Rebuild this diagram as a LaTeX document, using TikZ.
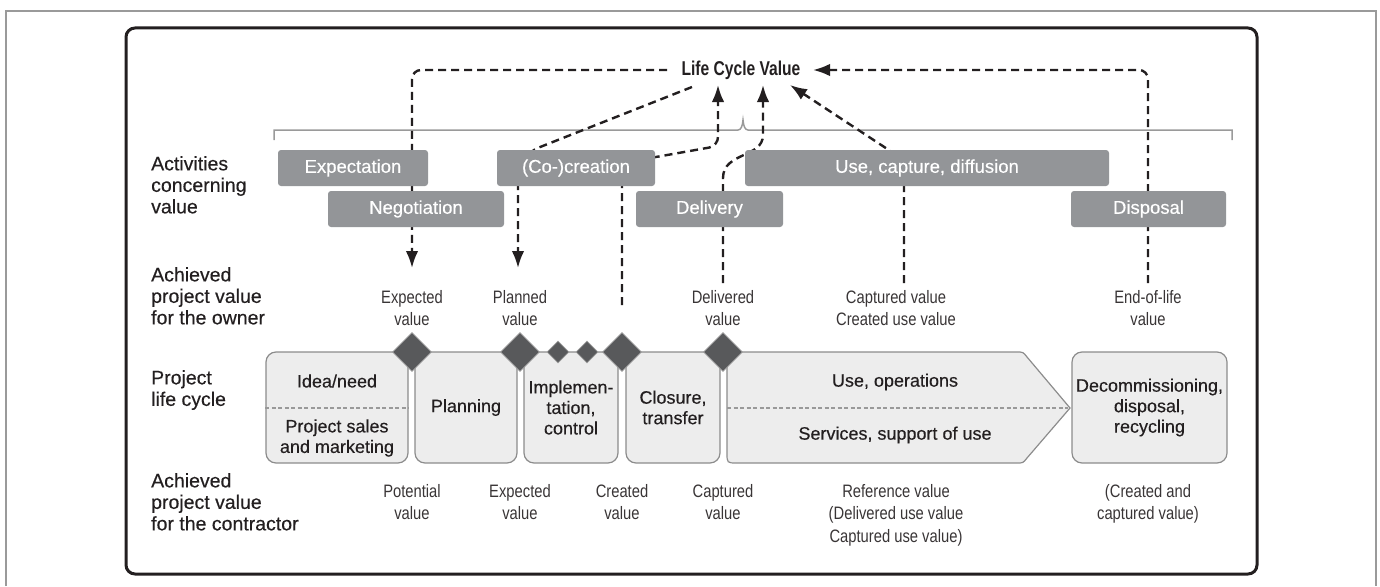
\documentclass[tikz,border=0pt]{standalone}
\usepackage{fontspec}
\setmainfont{Liberation Sans}
\newfontfamily\medfont[FakeBold=0.35]{Liberation Sans}
\newfontfamily\condfont[FakeStretch=0.82]{Liberation Sans}
\newfontfamily\lcvfont[FakeStretch=0.78]{Liberation Sans}
\usetikzlibrary{arrows.meta,shapes.geometric}
\definecolor{actgray}{HTML}{939598}
\definecolor{boxfill}{HTML}{EDEDED}
\definecolor{boxline}{HTML}{8C8C8C}
\definecolor{diafill}{HTML}{58595B}
\definecolor{ink}{HTML}{231F20}
\definecolor{framegray}{HTML}{9A9A9A}
\begin{document}
\begin{tikzpicture}[x=1pt,y=-1pt,
  actbox/.style={fill=actgray, rounded corners=3pt, text=white, inner sep=0pt,
    font=\medfont\fontsize{18.5}{21}\selectfont, minimum height=36pt},
  lowbox/.style={fill=boxfill, draw=boxline, line width=1.2pt, rounded corners=10pt,
    inner sep=0pt, minimum height=111pt, text=ink, align=center,
    font=\medfont\fontsize{18}{20.5}\selectfont},
  boxtext/.style={text=ink, align=center, inner sep=0pt, font=\medfont\fontsize{18}{20.5}\selectfont},
  sidelabel/.style={text=ink, align=left, anchor=north west, inner sep=0pt,
    font=\medfont\fontsize{19.5}{21.5}\selectfont},
  vlabel/.style={text=ink!90, align=center, anchor=north, inner sep=0pt,
    font=\condfont\fontsize{18}{22.5}\selectfont},
  bigdia/.style={diamond, fill=diafill, draw=gray!75, line width=0.8pt,
    minimum width=39pt, minimum height=39pt, inner sep=0pt},
  smalldia/.style={diamond, fill=diafill, draw=gray!75, line width=0.8pt,
    minimum width=22pt, minimum height=22pt, inner sep=0pt},
  dashline/.style={draw=ink, line width=2.4pt, dash pattern=on 8pt off 5pt, rounded corners=9pt},
  dasharrow/.style={dashline, -{Latex[length=17pt,width=12.5pt]}},
  divider/.style={draw=gray!80, line width=1.1pt, dash pattern=on 4pt off 2.5pt}
]
\useasboundingbox (0,0) rectangle (1380,586);
% outer gray frame
\draw[framegray, line width=2pt] (6,586) -- (6,11) -- (1376,11) -- (1376,586);
% inner black frame
\draw[ink, line width=3pt, rounded corners=9pt] (126,28) rectangle (1257,574);

% brace-like bracket
\draw[framegray, line width=1.5pt] (274,140) -- (274,130) -- (738,130)
  .. controls (741,130) and (742.5,126) .. (743,120)
  .. controls (743.5,126) and (745,130) .. (748,130) -- (1232,130) -- (1232,140);

% title
\node[font=\lcvfont\bfseries\fontsize{20}{23}\selectfont, text=ink, inner sep=0pt] (lcv) at (741,70) {Life Cycle Value};

% value labels (owner)
\node[vlabel] (ov1) at (412,290) {Expected\\value};
\node[vlabel] (ov2) at (520,290) {Planned\\value};
\node[vlabel] (ov3) at (723,290) {Delivered\\value};
\node[vlabel] (ov4) at (896,290) {Captured value\\Created use value};
\node[vlabel] (ov5) at (1148,290) {End-of-life\\value};

% value labels (contractor)
\node[vlabel] (cv1) at (412,484) {Potential\\value};
\node[vlabel] (cv2) at (520,484) {Expected\\value};
\node[vlabel] (cv3) at (622,484) {Created\\value};
\node[vlabel] (cv4) at (723,484) {Captured\\value};
\node[vlabel] (cv5) at (896,484) {Reference value\\(Delivered use value\\Captured use value)};
\node[vlabel] (cv6) at (1148,484) {(Created and\\captured value)};

% coordinates for connectors
\coordinate (a1s) at (667,70);
\coordinate (a1t) at (412,268);
\coordinate (a2s) at (692,87);
\coordinate (a2t) at (518,268);
\coordinate (a3s) at (622,305);
\coordinate (a3t) at (718,85);
\coordinate (a4s) at (723,283);
\coordinate (a4t) at (763,85);
\coordinate (a5s) at (904,283);
\coordinate (a5t) at (790,85);
\coordinate (a6s) at (1148,283);
\coordinate (a6t) at (813,70);

% dashed connectors (drawn behind activity boxes)
\draw[dasharrow] (a1s) -- (412,70) -- (a1t);
\draw[dasharrow] (a2s) -- (530,151) -- (518,168) -- (a2t);
\draw[dasharrow] (a3s) -- (622,163) -- (718,146) -- (a3t);
\draw[dasharrow, rounded corners=0pt] (a4s) -- (723,178) .. controls (723,152) and (763,158) .. (763,135) -- (a4t);
\draw[dasharrow] (a5s) -- (904,160) -- (a5t);
\draw[dasharrow] (a6s) -- (1148,70) -- (a6t);

% activity boxes
\node[actbox, minimum width=150pt] (expect) at (353,168) {Expectation};
\node[actbox, minimum width=176pt] (negot) at (416,209) {Negotiation};
\node[actbox, minimum width=158pt] (cocre) at (576,168) {(Co-)creation};
\node[actbox, minimum width=147pt] (deliv) at (709.5,209) {Delivery};
\node[actbox, minimum width=364pt] (usecap) at (927,168) {Use, capture, diffusion};
\node[actbox, minimum width=155pt] (dispo) at (1148.5,209) {Disposal};

% side labels
\node[sidelabel] (sl1) at (151,156) {Activities\\concerning\\value};
\node[sidelabel] (sl2) at (151,267) {Achieved\\project value\\for the owner};
\node[sidelabel] (sl3) at (151,370) {Project\\life cycle};
\node[sidelabel] (sl4) at (151,473) {Achieved\\project value\\for the contractor};

% life cycle boxes
\node[lowbox, minimum width=142pt] (b1) at (337,407.5) {};
\draw[divider] (b1.west |- 0,408) -- (b1.east |- 0,408);
\node[boxtext] (b1a) at (337,381) {Idea/need};
\node[boxtext] (b1b) at (337,438) {Project sales\\and marketing};
\node[lowbox, minimum width=102pt] (b2) at (466,407.5) {Planning};
\node[lowbox, minimum width=94pt] (b3) at (571,407.5) {Implemen-\\tation,\\control};
\node[lowbox, minimum width=94pt] (b4) at (673,407.5) {Closure,\\transfer};
\draw[fill=boxfill, draw=boxline, line width=1.2pt]
  (1070,408) -- (1027,357) .. controls (1023,352) .. (1017,352) -- (737,352)
  .. controls (727,352) .. (727,362) -- (727,453) .. controls (727,463) .. (737,463)
  -- (1017,463) .. controls (1023,463) .. (1027,458) -- cycle;
\draw[divider] (727,408) -- (1068,408);
\node[boxtext] (b5a) at (895,382) {Use, operations};
\node[boxtext] (b5b) at (895,435) {Services, support of use};
\node[lowbox, minimum width=155pt] (b6) at (1149.5,407.5) {Decommissioning,\\disposal,\\recycling};

% milestones
\node[bigdia] (m1) at (412,352) {};
\node[bigdia] (m2) at (520,352) {};
\node[smalldia] (m3) at (558,352) {};
\node[smalldia] (m4) at (587,352) {};
\node[bigdia] (m5) at (622,352) {};
\node[bigdia] (m6) at (723,352) {};
\end{tikzpicture}
\end{document}
